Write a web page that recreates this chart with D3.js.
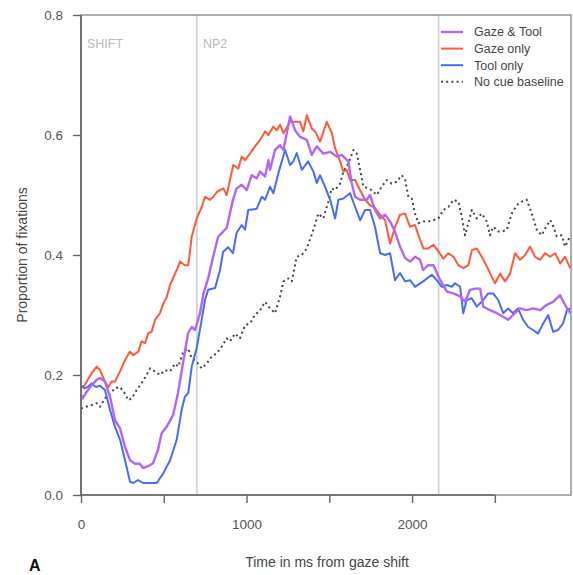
<!DOCTYPE html>
<html>
<head>
<meta charset="utf-8">
<script src="https://cdn.jsdelivr.net/npm/d3@7"></script>
<style>
  html, body { margin: 0; padding: 0; background: #fff; }
  svg { display: block; }
  text { font-family: "Liberation Sans", Arial, Helvetica, sans-serif; }
</style>
</head>
<body>
<svg id="chart" width="573" height="575"></svg>
<script>
// ---- data (time in ms, proportion of fixations) ----
const gazeTool = [[0,0.167],[10,0.161],[34,0.172],[64,0.183],[95,0.192],[115,0.195],[145,0.189],[175,0.164],[205,0.125],[236,0.111],[266,0.080],[296,0.058],[326,0.052],[355,0.052],[375,0.045],[405,0.048],[435,0.053],[465,0.075],[487,0.103],[518,0.114],[556,0.133],[586,0.170],[616,0.220],[647,0.270],[669,0.280],[689,0.275],[719,0.303],[740,0.336],[768,0.361],[798,0.397],[828,0.430],[858,0.439],[880,0.445],[900,0.470],[918,0.492],[940,0.511],[971,0.517],[1001,0.508],[1031,0.533],[1061,0.528],[1082,0.539],[1112,0.531],[1132,0.558],[1142,0.542],[1172,0.575],[1203,0.583],[1223,0.575],[1263,0.631],[1293,0.608],[1323,0.597],[1364,0.592],[1394,0.567],[1424,0.581],[1464,0.569],[1505,0.572],[1545,0.564],[1575,0.567],[1615,0.556],[1635,0.520],[1656,0.497],[1686,0.492],[1726,0.492],[1746,0.500],[1776,0.475],[1807,0.461],[1837,0.467],[1867,0.456],[1897,0.439],[1927,0.414],[1958,0.395],[1988,0.389],[2018,0.397],[2048,0.392],[2067,0.375],[2097,0.383],[2129,0.383],[2170,0.358],[2210,0.339],[2250,0.336],[2290,0.331],[2320,0.322],[2350,0.342],[2380,0.344],[2411,0.344],[2430,0.314],[2471,0.308],[2512,0.303],[2550,0.297],[2580,0.292],[2610,0.300],[2652,0.311],[2693,0.308],[2731,0.311],[2773,0.308],[2813,0.317],[2852,0.322],[2894,0.333],[2924,0.317],[2955,0.303]];

const gazeOnly = [[0,0.180],[20,0.182],[64,0.203],[95,0.214],[115,0.208],[145,0.189],[165,0.180],[185,0.189],[205,0.189],[236,0.206],[266,0.225],[296,0.239],[316,0.233],[346,0.239],[366,0.256],[387,0.253],[407,0.270],[427,0.272],[447,0.292],[477,0.303],[497,0.319],[518,0.330],[538,0.350],[578,0.375],[598,0.389],[628,0.383],[648,0.383],[669,0.431],[699,0.461],[729,0.480],[749,0.497],[779,0.492],[800,0.497],[820,0.505],[860,0.511],[880,0.500],[900,0.525],[920,0.550],[950,0.544],[971,0.564],[991,0.558],[1021,0.569],[1051,0.581],[1082,0.592],[1112,0.606],[1132,0.600],[1162,0.614],[1182,0.608],[1203,0.617],[1223,0.603],[1263,0.622],[1323,0.622],[1343,0.606],[1364,0.633],[1394,0.611],[1414,0.606],[1444,0.589],[1485,0.622],[1515,0.603],[1535,0.578],[1565,0.556],[1585,0.539],[1605,0.542],[1625,0.525],[1656,0.525],[1686,0.508],[1716,0.492],[1746,0.483],[1776,0.478],[1807,0.467],[1837,0.458],[1867,0.419],[1897,0.447],[1927,0.467],[1958,0.469],[1988,0.447],[2018,0.450],[2038,0.433],[2068,0.411],[2098,0.411],[2129,0.417],[2159,0.406],[2189,0.394],[2219,0.403],[2250,0.397],[2280,0.383],[2310,0.378],[2340,0.383],[2361,0.408],[2391,0.411],[2421,0.397],[2451,0.381],[2481,0.364],[2501,0.353],[2532,0.369],[2562,0.356],[2592,0.369],[2622,0.403],[2652,0.392],[2683,0.400],[2713,0.414],[2743,0.397],[2773,0.392],[2804,0.403],[2834,0.397],[2864,0.403],[2894,0.386],[2924,0.397],[2955,0.378]];

const toolOnly = [[0,0.182],[20,0.178],[40,0.180],[64,0.186],[90,0.180],[115,0.182],[145,0.175],[175,0.142],[205,0.114],[236,0.092],[266,0.058],[296,0.022],[316,0.020],[344,0.025],[375,0.020],[457,0.020],[497,0.036],[538,0.058],[578,0.092],[608,0.142],[628,0.164],[648,0.170],[669,0.214],[699,0.245],[729,0.292],[749,0.325],[768,0.342],[810,0.345],[840,0.375],[858,0.405],[888,0.413],[918,0.403],[940,0.437],[971,0.450],[991,0.442],[1010,0.475],[1061,0.477],[1092,0.497],[1112,0.492],[1142,0.514],[1162,0.503],[1192,0.536],[1233,0.575],[1263,0.550],[1283,0.556],[1303,0.570],[1334,0.542],[1372,0.556],[1404,0.539],[1424,0.520],[1444,0.533],[1474,0.514],[1505,0.492],[1535,0.461],[1555,0.492],[1585,0.494],[1625,0.503],[1656,0.480],[1686,0.458],[1716,0.475],[1746,0.475],[1776,0.447],[1807,0.403],[1837,0.400],[1867,0.403],[1897,0.358],[1927,0.370],[1958,0.356],[1988,0.358],[2018,0.347],[2067,0.356],[2119,0.367],[2149,0.358],[2180,0.347],[2210,0.350],[2240,0.347],[2260,0.353],[2290,0.347],[2309,0.303],[2330,0.325],[2360,0.328],[2391,0.314],[2430,0.325],[2460,0.336],[2490,0.336],[2520,0.325],[2550,0.303],[2580,0.311],[2610,0.303],[2640,0.311],[2671,0.292],[2701,0.280],[2731,0.275],[2761,0.269],[2792,0.286],[2822,0.300],[2852,0.272],[2882,0.275],[2912,0.286],[2935,0.308],[2955,0.311]];

const baseline = [[0,0.144],[30,0.147],[64,0.150],[95,0.153],[115,0.147],[145,0.161],[175,0.169],[205,0.178],[236,0.180],[266,0.169],[286,0.158],[306,0.161],[336,0.175],[366,0.186],[397,0.200],[417,0.211],[447,0.206],[477,0.200],[507,0.208],[538,0.206],[568,0.219],[588,0.214],[618,0.239],[648,0.244],[669,0.228],[699,0.222],[729,0.211],[759,0.219],[790,0.231],[820,0.236],[850,0.247],[880,0.261],[900,0.256],[930,0.269],[960,0.261],[991,0.283],[1021,0.286],[1051,0.300],[1082,0.308],[1112,0.322],[1142,0.311],[1172,0.303],[1203,0.331],[1223,0.356],[1253,0.361],[1273,0.356],[1303,0.397],[1334,0.400],[1364,0.411],[1404,0.442],[1434,0.469],[1464,0.461],[1494,0.489],[1515,0.511],[1535,0.508],[1565,0.519],[1585,0.539],[1615,0.553],[1646,0.575],[1666,0.569],[1686,0.542],[1706,0.514],[1736,0.511],[1756,0.508],[1786,0.500],[1817,0.514],[1847,0.525],[1877,0.519],[1907,0.522],[1938,0.533],[1958,0.525],[1978,0.497],[1998,0.494],[2018,0.469],[2038,0.453],[2068,0.456],[2098,0.456],[2129,0.458],[2159,0.461],[2189,0.475],[2219,0.480],[2250,0.492],[2280,0.489],[2300,0.464],[2320,0.433],[2340,0.453],[2361,0.475],[2391,0.461],[2421,0.469],[2451,0.456],[2471,0.433],[2491,0.447],[2522,0.439],[2542,0.439],[2572,0.442],[2602,0.469],[2632,0.483],[2663,0.489],[2693,0.492],[2723,0.469],[2753,0.442],[2783,0.433],[2804,0.444],[2834,0.458],[2854,0.447],[2874,0.431],[2904,0.433],[2924,0.414],[2955,0.431]];

const seriesNames = ["Gaze & Tool", "Gaze only", "Tool only", "No cue baseline"];
const eventTimes = [700, 2160];
const phaseLabels = [["SHIFT", 0], ["NP2", 700]];
const xTicks = [0, 500, 1000, 1500, 2000, 2500];
const xTickLabels = [0, 1000, 2000];
const yTicks = [0, 0.2, 0.4, 0.6, 0.8];

// ---- layout ----
const svg = d3.select("#chart");
const L = 81, R = 571, T = 15, B = 495;
const x = d3.scaleLinear().domain([0, 2960]).range([L, R]);
const y = d3.scaleLinear().domain([0, 0.8]).range([B, T]);

const styles = [
  { data: gazeTool, color: "#b266f5", width: 2.4, dash: null },
  { data: gazeOnly, color: "#ff5a38", width: 2, dash: null },
  { data: toolOnly, color: "#4a6af8", width: 2, dash: null },
  { data: baseline, color: "#444", width: 2, dash: "2,3.2" }
];

// event lines
svg.selectAll(".ev").data(eventTimes).enter().append("line")
  .attr("x1", d => x(d)).attr("x2", d => x(d))
  .attr("y1", T).attr("y2", B)
  .attr("stroke", "#cfcfcf").attr("stroke-width", 1.6);

svg.selectAll(".ph").data(phaseLabels).enter().append("text")
  .attr("x", d => x(d[1]) + 6).attr("y", 48)
  .attr("font-size", 12.5).attr("fill", "#b8b8b8")
  .text(d => d[0]);

// box
svg.append("rect").attr("x", L).attr("y", T).attr("width", R - L).attr("height", B - T)
  .attr("fill", "none").attr("stroke", "#8a8a8a").attr("stroke-width", 1.4);

// lines
const line = d3.line().x(d => x(d[0])).y(d => y(d[1]));
const order = [3, 1, 2, 0];
order.forEach(i => {
  const s = styles[i];
  svg.append("path").datum(s.data)
    .attr("d", line)
    .attr("fill", "none")
    .attr("stroke", s.color)
    .attr("stroke-width", s.width)
    .attr("stroke-linejoin", "round")
    .attr("stroke-dasharray", s.dash);
});

// axes
const xAxis = d3.axisBottom(x).tickValues(xTicks).tickSize(8)
  .tickFormat(d => xTickLabels.includes(d) ? d3.format("d")(d) : "");
const gx = svg.append("g").attr("transform", `translate(0,${B})`).call(xAxis);
gx.select(".domain").attr("stroke", "#666").attr("stroke-width", 1.4).attr("d", `M${x(0)},0H${x(2500)}`);
gx.selectAll(".tick line").attr("stroke", "#666").attr("stroke-width", 1.4);
gx.selectAll(".tick text").attr("font-size", 13.5).attr("fill", "#555")
  .attr("dy", 0).attr("y", 34)
  .style("font-family", '"Liberation Sans", Arial, sans-serif');

const yAxis = d3.axisLeft(y).tickValues(yTicks).tickSize(8).tickFormat(d3.format(".1f"));
const gy = svg.append("g").attr("transform", `translate(${L},0)`).call(yAxis);
gy.select(".domain").attr("stroke", "#666").attr("stroke-width", 1.6).attr("d", `M0,${y(0)}V${y(0.8)}`);
gy.selectAll(".tick line").attr("stroke", "#666").attr("stroke-width", 1.4);
gy.selectAll(".tick text").attr("font-size", 13.5).attr("fill", "#555")
  .attr("x", -18).attr("dy", "0.35em")
  .style("font-family", '"Liberation Sans", Arial, sans-serif');

// axis titles
svg.append("text").attr("transform", `translate(27,${(T + B) / 2}) rotate(-90)`)
  .attr("text-anchor", "middle").attr("font-size", 14).attr("fill", "#444")
  .text("Proportion of fixations");
svg.append("text").attr("x", 327).attr("y", 567)
  .attr("text-anchor", "middle").attr("font-size", 14).attr("fill", "#444")
  .text("Time in ms from gaze shift");
svg.append("text").attr("x", 29).attr("y", 571)
  .attr("font-size", 16).attr("font-weight", "bold").attr("fill", "#111")
  .text("A");

// legend
const lg = svg.append("g");
styles.forEach((s, i) => {
  const yy = 32 + i * 16.6;
  lg.append("line").attr("x1", 441).attr("x2", 463).attr("y1", yy).attr("y2", yy)
    .attr("stroke", s.color).attr("stroke-width", s.width)
    .attr("stroke-dasharray", s.dash);
  lg.append("text").attr("x", 474).attr("y", yy).attr("dy", "0.35em")
    .attr("font-size", 12.5).attr("fill", "#444")
    .text(seriesNames[i]);
});
</script>
</body>
</html>
